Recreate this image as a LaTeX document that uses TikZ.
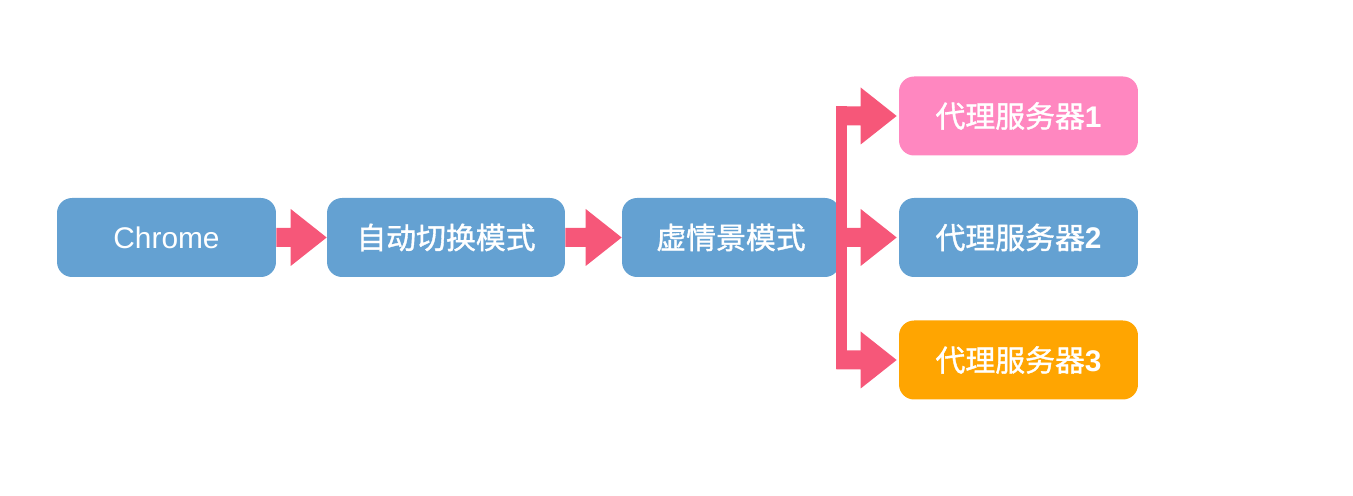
\documentclass[tikz,border=0pt]{standalone}
\usepackage{fontspec}
\setmainfont{Liberation Sans}
\newfontfamily\cjk{Noto Sans CJK SC}[FakeBold=1.2]
\usetikzlibrary{calc}
\definecolor{boxblue}{RGB}{100,161,210}
\definecolor{boxpink}{RGB}{255,135,192}
\definecolor{boxorange}{RGB}{255,165,1}
\definecolor{arrowred}{RGB}{246,87,121}

\newcommand{\fatarrow}[2]{%
\fill [arrowred] ($(#1)+(0,9.5)$) -- ($(#2)+(-36,9.5)$) -- ($(#2)+(-36,28.5)$) -- (#2)
  -- ($(#2)+(-36,-28.5)$) -- ($(#2)+(-36,-9.5)$) -- ($(#1)+(0,-9.5)$) -- cycle;}

\begin{document}
\begin{tikzpicture}[x=0.02cm, y=0.02cm,
  box/.style={rounded corners=0.3cm, fill=#1, text=white, minimum height=1.58cm,
    inner sep=0pt, font=\fontsize{17}{20}\selectfont},
  box/.default=boxblue]
\useasboundingbox (0,0) rectangle (1353,496);

\node [box, minimum width=4.38cm] (chrome) at (166.5,258.5) {Chrome};
\node [box, minimum width=4.76cm] (auto) at (446,258.5) {\cjk 自动切换模式};
\node [box, minimum width=4.36cm] (scene) at (731,258.5) {\cjk 虚情景模式};
\node [box=boxpink, minimum width=4.78cm] (proxyA) at (1018.5,380) {\cjk 代理服务器\textbf{\rmfamily 1}};
\node [box, minimum width=4.78cm] (proxyB) at (1018.5,258.5) {\cjk 代理服务器\textbf{\rmfamily 2}};
\node [box=boxorange, minimum width=4.78cm] (proxyC) at (1018.5,136) {\cjk 代理服务器\textbf{\rmfamily 3}};

\fatarrow{chrome.east}{auto.west}
\fatarrow{auto.east}{scene.west}

\coordinate (fork) at ($(scene.east)+(-4,0)$);
\fill [arrowred] ($(fork |- proxyA.west)+(0,9.5)$) rectangle ($(fork |- proxyC.west)+(11,-9.5)$);
\fatarrow{fork |- proxyA.west}{$(proxyA.west)+(-2,0)$}
\fatarrow{fork |- proxyB.west}{$(proxyB.west)+(-2,0)$}
\fatarrow{fork |- proxyC.west}{$(proxyC.west)+(-2,0)$}

\end{tikzpicture}
\end{document}
